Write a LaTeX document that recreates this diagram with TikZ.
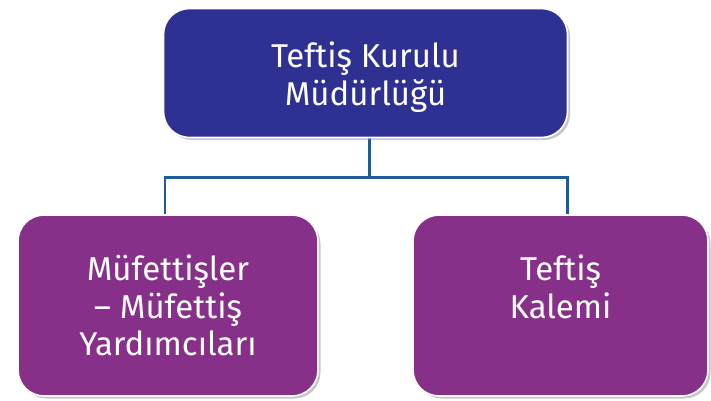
\documentclass[tikz,border=0pt]{standalone}
\usepackage{fontspec}
\setmainfont{Fira Sans}
\usetikzlibrary{shadows,backgrounds}
\definecolor{headcolor}{HTML}{2E3192}
\definecolor{unitcolor}{HTML}{873089}
\definecolor{linkcolor}{HTML}{1F5A9E}
\tikzset{
  box/.style={draw=white,line width=1.6pt,rounded corners=26pt,text=white,
    align=center,font=\fontsize{33}{37.5}\selectfont,
    drop shadow={shadow xshift=2.5pt,shadow yshift=-2.5pt,opacity=.45}},
  link/.style={draw=linkcolor,line width=2.4pt}
}
\begin{document}
\begin{tikzpicture}[x=1pt,y=1pt]
 \useasboundingbox (0,0) rectangle (711,-400);
 \node [box,fill=headcolor,minimum width=404,minimum height=129,text height=72pt] (mudurluk) at (365.5,-73) {Teftiş Kurulu\\Müdürlüğü};
 \node [box,fill=unitcolor,minimum width=300,minimum height=181] (mufettis) at (168,-305.5) {Müfettişler\\– Müfettiş\\Yardımcıları};
 \node [box,fill=unitcolor,minimum width=295,minimum height=181] (kalem) at (560.5,-305.5) {Teftiş\\Kalemi\\\mbox{}};
 \coordinate (bus) at ([yshift=-39]mudurluk.south);
 \begin{scope}[on background layer]
  \draw [link] ([xshift=4]mudurluk.south) -- ([xshift=4]bus);
  \draw [link] ([xshift=4]bus) -| ([xshift=-3]mufettis.north);
  \draw [link] ([xshift=4]bus) -| ([xshift=7]kalem.north);
 \end{scope}
\end{tikzpicture}
\end{document}
